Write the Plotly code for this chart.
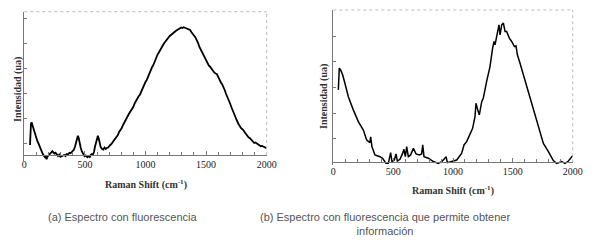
import plotly.graph_objects as go

# ---- data: panel (a) ----
a_x = [47, 50, 55, 60, 65, 72, 80, 88, 98, 108, 116, 125, 135, 143, 152, 160, 171, 178, 184, 192,
       200, 212, 222, 232, 240, 250, 258, 267, 278, 288, 298, 308, 318, 330, 340, 349, 360, 372, 382, 391,
       400, 410, 418, 426, 434, 442, 448, 455, 465, 475, 487, 497, 507, 520, 530, 540, 548, 556, 566, 575,
       583, 592, 600, 607, 614, 622, 630, 640, 652, 662, 672, 680, 692, 705, 715, 721, 730, 740, 752, 762,
       772, 782, 792, 803, 815, 825, 835, 845, 858, 870, 882, 892, 900, 912, 925, 935, 945, 955, 968, 980,
       990, 1000, 1010, 1022, 1035, 1045, 1055, 1065, 1078, 1090, 1100, 1110, 1120, 1132, 1145, 1155, 1165, 1175, 1188, 1200,
       1210, 1220, 1230, 1242, 1255, 1265, 1275, 1285, 1295, 1305, 1315, 1326, 1338, 1350, 1360, 1368, 1378, 1390, 1400, 1412,
       1423, 1435, 1445, 1455, 1467, 1478, 1490, 1500, 1512, 1522, 1533, 1545, 1555, 1567, 1578, 1588, 1600, 1610, 1622, 1633,
       1643, 1655, 1665, 1677, 1687, 1697, 1710, 1720, 1732, 1742, 1752, 1765, 1775, 1787, 1797, 1807, 1820, 1830, 1842, 1852,
       1862, 1875, 1885, 1897, 1907, 1917, 1930, 1940, 1952, 1962, 1972, 1985, 1993, 2000]
a_y = [0.40, 1.05, 1.25, 1.31, 1.22, 1.08, 0.95, 0.86, 0.70, 0.55, 0.47, 0.36, 0.20, 0.13, 0.05, -0.02, -0.09, -0.05, -0.17, -0.06,
       -0.02, 0.04, 0.08, 0.15, 0.10, 0.06, 0.09, 0.01, -0.04, 0.02, -0.07, -0.05, -0.02, 0.00, -0.04, 0.04, 0.02, 0.09, 0.07, 0.13,
       0.15, 0.22, 0.33, 0.48, 0.64, 0.77, 0.70, 0.50, 0.30, 0.14, 0.04, -0.05, -0.02, -0.09, -0.04, -0.08, 0.00, 0.04, 0.02, 0.12,
       0.33, 0.52, 0.70, 0.77, 0.66, 0.45, 0.32, 0.25, 0.22, 0.30, 0.24, 0.28, 0.30, 0.38, 0.42, 0.45, 0.52, 0.58, 0.66, 0.73,
       0.80, 0.92, 0.98, 1.07, 1.20, 1.28, 1.38, 1.47, 1.60, 1.70, 1.78, 1.88, 1.93, 2.08, 2.20, 2.30, 2.36, 2.42, 2.58, 2.72,
       2.84, 2.92, 3.00, 3.16, 3.30, 3.42, 3.52, 3.60, 3.78, 3.92, 4.02, 4.10, 4.20, 4.32, 4.40, 4.48, 4.55, 4.60, 4.70, 4.76,
       4.80, 4.85, 4.87, 4.93, 4.98, 5.02, 5.04, 5.07, 5.10, 5.08, 5.11, 5.09, 5.06, 5.04, 5.02, 5.00, 4.92, 4.86, 4.78, 4.70,
       4.60, 4.46, 4.32, 4.22, 4.12, 4.00, 3.86, 3.74, 3.66, 3.58, 3.53, 3.44, 3.38, 3.30, 3.26, 3.24, 3.12, 3.00, 2.90, 2.82,
       2.73, 2.58, 2.44, 2.32, 2.18, 2.07, 1.90, 1.76, 1.62, 1.50, 1.40, 1.26, 1.16, 1.08, 1.04, 1.00, 0.90, 0.82, 0.74, 0.70,
       0.67, 0.58, 0.54, 0.48, 0.50, 0.47, 0.40, 0.38, 0.35, 0.36, 0.33, 0.30, 0.29, 0.27]

# ---- data: panel (b) ----
b_x = [42, 50, 61, 78, 97, 125, 167, 209, 251, 279, 306, 312, 323, 348, 390, 412, 440, 460, 479, 490,
       510, 524, 535, 557, 579, 590, 602, 613, 627, 646, 669, 691, 719, 738, 747, 758, 794, 836, 877, 905,
       925, 942, 953, 989, 1031, 1072, 1092, 1114, 1142, 1164, 1184, 1192, 1206, 1220, 1240, 1253, 1281, 1309, 1331, 1343,
       1351, 1370, 1384, 1393, 1407, 1421, 1435, 1448, 1471, 1490, 1513, 1526, 1538, 1560, 1593, 1630, 1671, 1713, 1755, 1797,
       1838, 1866, 1908, 1936, 1964, 2000]
b_y = [2.83, 3.68, 3.61, 3.42, 3.09, 2.57, 2.05, 1.59, 1.26, 0.87, 0.77, 1.00, 0.61, 0.29, 0.22, 0.16, -0.04, -0.04, 0.38, 0.03,
       0.09, 0.33, 0.05, 0.12, 0.35, 0.51, 0.22, 0.61, 0.22, 0.29, 0.55, 0.33, 0.29, 0.33, 0.68, 0.22, 0.16, 0.03, -0.04, 0.03,
       0.12, 0.22, -0.01, 0.03, 0.09, 0.35, 0.68, 0.81, 1.13, 1.33, 1.79, 2.31, 2.05, 1.85, 2.37, 2.50, 3.16, 3.74, 4.46, 4.72,
       4.59, 5.11, 5.37, 4.98, 5.37, 5.44, 5.11, 5.11, 4.85, 4.72, 4.52, 4.55, 4.20, 3.87, 3.35, 2.76, 2.05, 1.40, 0.74, 0.42,
       0.07, -0.04, 0.03, -0.04, 0.05, 0.26]

x_ticks = [0, 500, 1000, 1500, 2000]
a_yticks = [0.47, 1.47, 2.47, 3.47, 4.47, 5.47]
b_yticks = [0.92, 1.92, 2.92, 3.92, 4.92, 5.92]

x_title = "Raman Shift (cm<sup>-1</sup>)"
y_title = "Intensidad (ua)"
cap_a = "(a) Espectro con fluorescencia"
cap_b = "(b) Espectro con fluorescencia que permite obtener<br>información"

W, H = 604, 243
def px(v): return v / W
def py(v): return 1 - v / H

SERIF = "Liberation Serif, DejaVu Serif, serif"
AX = "#777777"

fig = go.Figure()
fig.add_trace(go.Scatter(x=a_x, y=a_y, mode="lines", line=dict(color="black", width=1.8),
                         xaxis="x", yaxis="y", hoverinfo="skip"))
fig.add_trace(go.Scatter(x=b_x, y=b_y, mode="lines", line=dict(color="black", width=1.5),
                         xaxis="x2", yaxis="y2", hoverinfo="skip"))

# panel geometry (pixels)
A = dict(l=24.3, r=266.7, t=11.7, b=161, base=155)
B = dict(l=333.3, r=572.7, t=10, b=164.9, base=162.3)

def xax(P):
    return dict(domain=[px(P["l"]), px(P["r"])], anchor="free", position=py(P["base"]),
                range=[0, 2000], tickvals=x_ticks, ticks="inside", ticklen=4, tickcolor=AX,
                minor=dict(dtick=100, ticks="inside", ticklen=3, tickcolor=AX),
                showline=True, linecolor=AX, linewidth=1, showgrid=False, zeroline=False,
                automargin=False,
                tickfont=dict(family=SERIF, size=10, color="#222"), fixedrange=True)

def yax(P, rng, tv, anchor):
    return dict(domain=[py(P["b"]), py(P["t"])], anchor=anchor, range=rng, tickvals=tv,
                ticks="inside", ticklen=3, tickcolor=AX, showticklabels=False,
                showline=True, linecolor=AX, linewidth=1, showgrid=False, zeroline=False,
                automargin=False, fixedrange=True)

fig.update_layout(
    width=W, height=H, margin=dict(l=0, r=0, t=0, b=0, pad=0, autoexpand=False),
    plot_bgcolor="white", paper_bgcolor="white", showlegend=False,
    xaxis=xax(A), yaxis=yax(A, [-0.24, 5.73], a_yticks, "x"),
    xaxis2=xax(B), yaxis2=yax(B, [-0.1, 5.95], b_yticks, "x2"),
)

shapes = []
for P in (A, B):
    shapes.append(dict(type="line", xref="paper", yref="paper", x0=px(P["l"]), x1=px(P["r"]),
                       y0=py(P["t"]), y1=py(P["t"]), line=dict(color="#bbbbbb", width=1, dash="dot")))
    shapes.append(dict(type="line", xref="paper", yref="paper", x0=px(P["r"]), x1=px(P["r"]),
                       y0=py(P["base"]), y1=py(P["t"]), line=dict(color="#bbbbbb", width=1, dash="dot")))
fig.update_layout(shapes=shapes)

ann = []
bold = dict(family=SERIF, size=10, color="#333")
ann.append(dict(x=px((A["l"] + A["r"]) / 2), y=py(184), text="<b>" + x_title + "</b>", font=bold))
ann.append(dict(x=px((B["l"] + B["r"]) / 2), y=py(190.7), text="<b>" + x_title + "</b>", font=bold))
ann.append(dict(x=px(18), y=py(90), text="<b>" + y_title + "</b>", textangle=-90, font=bold))
ann.append(dict(x=px(323.3), y=py(96.7), text="<b>" + y_title + "</b>", textangle=-90, font=bold))
capf = dict(family="Liberation Sans, Arial, sans-serif", size=11, color="#555")
ann.append(dict(x=px(122.5), y=py(216.7), text=cap_a, font=capf))
ann.append(dict(x=px(385), y=py(224), text=cap_b, font=capf, align="center"))
for a in ann:
    a.update(xref="paper", yref="paper", showarrow=False, xanchor="center", yanchor="middle")
fig.update_layout(annotations=ann)

fig.write_html("out.html", config={"displayModeBar": False},
               post_script="document.body.style.margin='0';document.body.style.overflow='hidden';")
